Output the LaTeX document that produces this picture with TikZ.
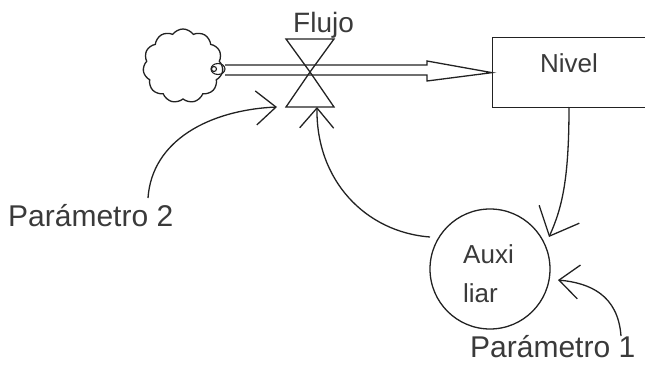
\documentclass[tikz,border=0pt]{standalone}
\usepackage{fontspec}
\setmainfont{Liberation Sans}
\usetikzlibrary{arrows.meta,shapes.symbols,shapes.geometric}
\definecolor{ink}{HTML}{222222}
\definecolor{label}{HTML}{3A3A3A}
\tikzset{
  line/.style={draw=ink, line width=1.3pt},
  barb/.style={-{Straight Barb[length=20pt,width=34pt,line width=1.3pt]}},
  bigbarb/.style={-{Straight Barb[length=24pt,width=44pt,line width=1.3pt]}},
  txt/.style={text=label, inner sep=0pt, font=\fontsize{30}{34}\selectfont},
  smalltxt/.style={text=label, inner sep=0pt, font=\fontsize{26}{39}\selectfont},
}
\begin{document}
\begin{tikzpicture}[x=1pt,y=-1pt]
  \useasboundingbox (0,0) rectangle (645,369);
  \clip (0,0) rectangle (645,369);

  % source cloud
  \node[cloud, cloud puffs=11, cloud puff arc=110, aspect=1.05, line, fill=white,
        minimum width=80pt, minimum height=74pt, inner sep=0pt] (src) at (183,66) {};
  \draw[line, line width=1.1pt] (218,69) ellipse [x radius=7, y radius=5.5];
  \draw[line, line width=1.1pt] (214,69) circle [radius=2.5];
  \coordinate (pipein) at (225,70);

  % stock
  \node[line, rectangle, minimum width=160pt, minimum height=70pt, anchor=north west,
        inner sep=0pt] (nivel) at (492,37) {};
  \node[smalltxt, anchor=base] (nivellbl) at (569,73) {Nivel};

  % flow pipe (double line with hollow head)
  \draw[line] (pipein |- 0,65) -- (427,65) -- (427,61) -- (nivel.west) -- (427,81) -- (427,75) -- (pipein |- 0,75);

  % valve
  \coordinate (valve) at (310,72);
  \draw[line, fill=white, fill opacity=0] (286,39) -- (334,39) -- (valve) -- cycle;
  \draw[line] (valve) -- (286,107) -- (334,107) -- cycle;
  \coordinate (valvebase) at (317,107);
  \node[txt, font=\fontsize{28}{32}\selectfont, anchor=base west] (flujo) at (293,33) {Flujo};

  % auxiliary
  \node[line, circle, minimum size=120pt, inner sep=0pt] (aux) at (490,269) {};
  \node[smalltxt, anchor=base west] (auxa) at (463,263) {Auxi};
  \node[smalltxt, anchor=base west] (auxb) at (463,302) {liar};

  % parameters
  \node[txt, anchor=base west] (p2) at (8,226) {Parámetro 2};
  \node[txt, anchor=base west] (p1) at (470,357) {Parámetro 1};

  % information links
  \coordinate (nivelout) at (569,107);
  \coordinate (auxtop) at (549,237);
  \coordinate (auxleft) at (430,237);
  \coordinate (auxright) at (558,280);
  \coordinate (p2top) at (148,198);
  \coordinate (p1top) at (621,336);
  \coordinate (valveleft) at (277,107);

  \draw[line, bigbarb] (nivelout) .. controls (569,180) and (562,208) .. (auxtop);
  \draw[line, barb] (auxleft) .. controls (365,232) and (316,180) .. (valvebase);
  \draw[line, barb] (p2top) .. controls (152,140) and (210,110) .. (valveleft);
  \draw[line, barb] (p1top) .. controls (618,295) and (590,283) .. (auxright);
\end{tikzpicture}
\end{document}
